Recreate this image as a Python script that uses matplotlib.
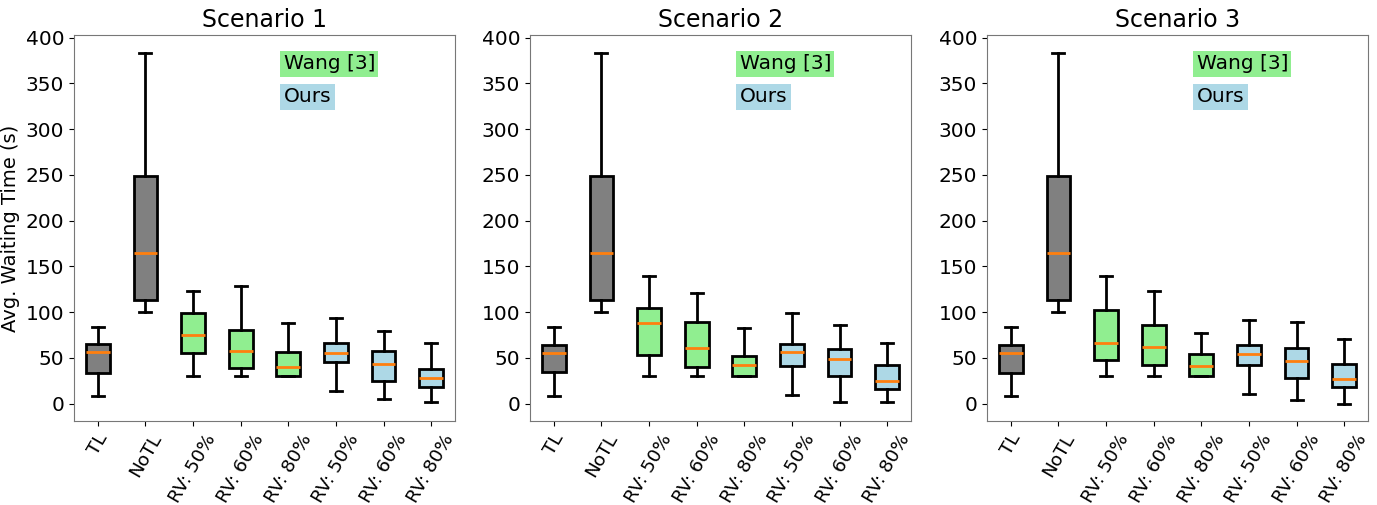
import matplotlib
matplotlib.use("Agg")
import matplotlib.pyplot as plt

labels = ["TL", "NoTL", "RV: 50%", "RV: 60%", "RV: 80%", "RV: 50%", "RV: 60%", "RV: 80%"]
colors = ["gray", "gray", "lightgreen", "lightgreen", "lightgreen", "lightblue", "lightblue", "lightblue"]
titles = ["Scenario 1", "Scenario 2", "Scenario 3"]

# per box: (whislo, q1, med, q3, whishi)
scen1 = [(8.7, 34, 56, 65, 84), (100.5, 113, 165, 249, 383.7),
         (30.5, 54.8, 74.8, 99.5, 122.7), (30.5, 38.8, 57, 80, 129),
         (30.5, 30.5, 40, 56, 88), (14, 45, 55.5, 66.8, 93.6),
         (5.4, 25, 43, 57, 79), (1.5, 18.5, 28.3, 37.7, 66.8)]
scen2 = [(8.7, 34.4, 55.8, 64.5, 83.7), (100.7, 113.4, 165, 249, 383.7),
         (30.4, 53.6, 88, 105, 140), (30.4, 39.9, 61, 88.8, 121),
         (30.4, 30.4, 41.7, 52, 83), (9.8, 41.3, 56.5, 65.2, 98.6),
         (1.8, 29.7, 49.3, 59.8, 85.5), (1.8, 16.3, 24.6, 42.4, 66.7)]
scen3 = [(8.4, 33.8, 55, 64, 83.7), (100, 112.8, 164.9, 249, 383.6),
         (30.2, 47.3, 66, 102, 140), (30.2, 42.6, 62, 86.5, 123),
         (30.2, 30.2, 41.5, 54, 77), (11, 42.6, 54.2, 64.4, 91),
         (4.4, 28, 46.2, 60.4, 88.8), (0, 18.6, 27, 43.7, 70.6)]
scenarios = [scen1, scen2, scen3]

fig = plt.figure(figsize=(13.77, 5.05), dpi=100)
lefts = [74, 530, 987]
for k in range(3):
    ax = fig.add_axes([lefts[k] / 1377, (505 - 421) / 505, 381 / 1377, 386 / 505])
    stats = []
    for lab, (lo, q1, med, q3, hi) in zip(labels, scenarios[k]):
        stats.append(dict(label=lab, whislo=lo, q1=q1, med=med, q3=q3, whishi=hi, fliers=[]))
    bp = ax.bxp(stats, patch_artist=True, widths=0.5, showfliers=False,
                boxprops=dict(linewidth=2, edgecolor="black"),
                whiskerprops=dict(linewidth=2),
                capprops=dict(linewidth=2),
                medianprops=dict(color="#ff7f0e", linewidth=2))
    for patch, c in zip(bp["boxes"], colors):
        patch.set_facecolor(c)
    ax.set_ylim(-19, 403)
    ax.set_yticks(range(0, 401, 50))
    ax.tick_params(axis="y", labelsize=14.5)
    ax.tick_params(axis="x", labelsize=13.3)
    plt.setp(ax.get_xticklabels(), rotation=60)
    ax.set_title(titles[k], fontsize=17)
    for sp in ax.spines.values():
        sp.set_color("#777777")
    ax.text(0.55, 0.925, "Wang [3]", transform=ax.transAxes, fontsize=14.5, va="center",
            bbox=dict(facecolor="lightgreen", edgecolor="none", pad=2.5))
    ax.text(0.55, 0.84, "Ours", transform=ax.transAxes, fontsize=14.5, va="center",
            bbox=dict(facecolor="lightblue", edgecolor="none", pad=2.5))
    if k == 0:
        ax.set_ylabel("Avg. Waiting Time (s)", fontsize=14)

fig.savefig("out.png", dpi=100)
